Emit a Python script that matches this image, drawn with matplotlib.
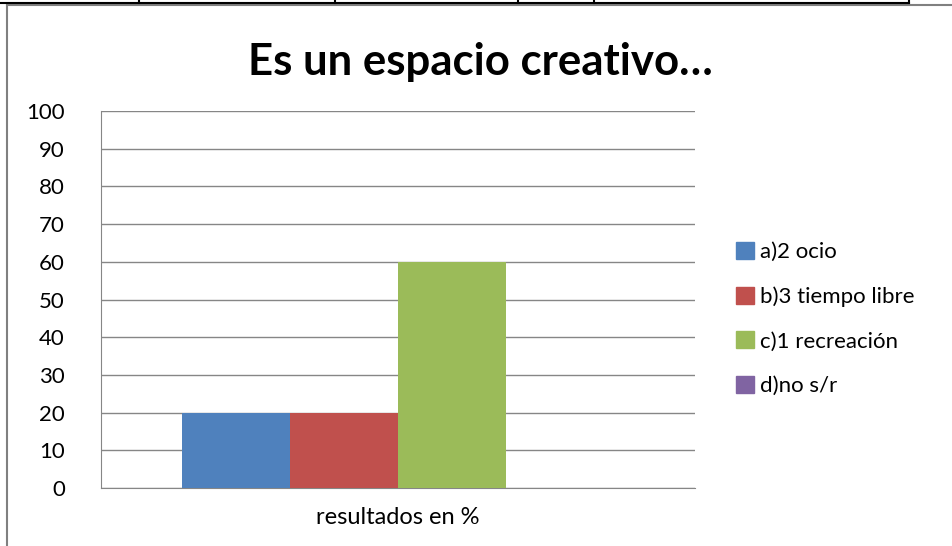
import numpy as np
import matplotlib.pyplot as plt
from matplotlib.lines import Line2D

categories = ["resultados en %"]
series = ["a)2 ocio", "b)3 tiempo libre", "c)1 recreación", "d)no s/r"]
values = [20, 20, 60, 0]
colors = ["#4F81BD", "#C0504D", "#9BBB59", "#8064A2"]
yticks = [0, 10, 20, 30, 40, 50, 60, 70, 80, 90, 100]

plt.rcParams['font.family'] = ['Lato', 'DejaVu Sans']

W, H = 953, 546
fig = plt.figure(figsize=(W / 100, H / 100), dpi=100)
fig.patch.set_facecolor("white")

# plot area in pixel coords
left, right, top, bottom = 101, 695, 111, 488
ax = fig.add_axes([left / W, 1 - bottom / H, (right - left) / W, (bottom - top) / H])

n = len(series)
gap = 1.5
w = 1 / (n + gap)
for i, (s, v, c) in enumerate(zip(series, values, colors)):
    x = -0.5 + w * gap / 2 + (i + 0.5) * w
    ax.bar(x, v, width=w, color=c, label=s, zorder=3)

ax.set_xlim(-0.5, 0.5)
ax.set_ylim(0, 100)
ax.set_yticks(yticks)
ax.set_xticks([0])
ax.set_xticklabels(categories, fontsize=17)
ax.tick_params(axis="x", length=0, pad=14)
ax.tick_params(axis="y", length=0, pad=26, labelsize=16)
for lab in ax.get_yticklabels():
    lab.set_horizontalalignment("right")
ax.yaxis.grid(True, color="#868686", linewidth=1, zorder=0)
for sp in ["top", "right"]:
    ax.spines[sp].set_visible(False)
ax.spines["left"].set_color("#868686")
ax.spines["bottom"].set_color("#868686")

fig.text(480 / W, 1 - 62 / H, "Es un espacio creativo…", ha="center", va="center",
         fontsize=31.5, fontweight="bold")

handles = [plt.Rectangle((0, 0), 1, 1, color=c) for c in colors]
fig.legend(handles, series, loc="upper left", bbox_to_anchor=(716 / W, 1 - 222 / H),
           frameon=False, fontsize=16, handlelength=0.8, handleheight=0.8,
           handletextpad=0.3, labelspacing=1.09)

# outer frame / table lines
fig.add_artist(Line2D([7 / W, 1], [1 - 5 / H, 1 - 5 / H], color="#808080", lw=1.5))
fig.add_artist(Line2D([7 / W, 7 / W], [0, 1 - 5 / H], color="#808080", lw=1.5))
fig.add_artist(Line2D([0, 909 / W], [1 - 3 / H, 1 - 3 / H], color="black", lw=1.5))
for xv in [139, 335, 518, 594, 909]:
    fig.add_artist(Line2D([xv / W, xv / W], [1 - 3 / H, 1], color="black", lw=1.5))

fig.savefig("out.png", dpi=100)
